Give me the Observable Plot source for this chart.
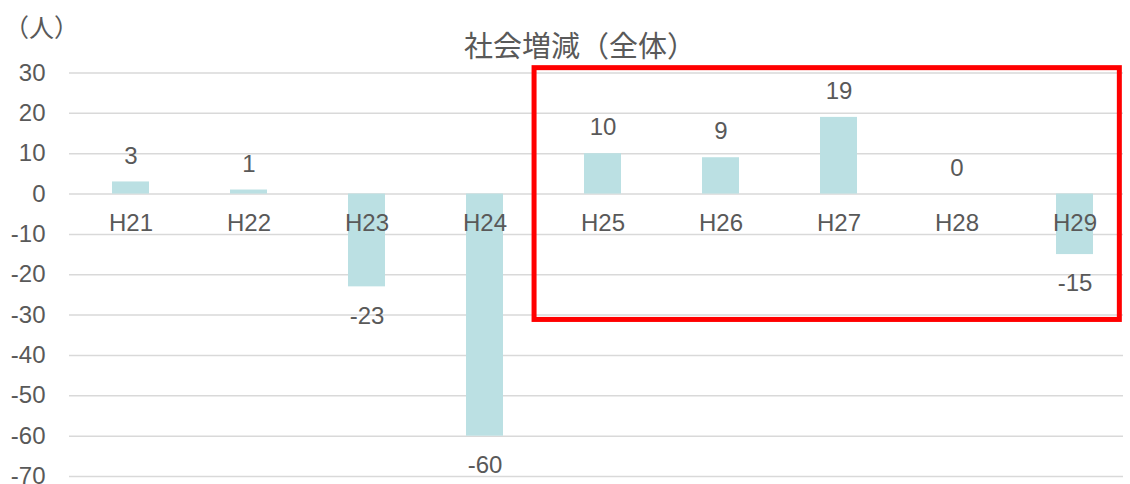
<!DOCTYPE html>
<html>
<head>
<meta charset="utf-8">
<script src="https://cdn.jsdelivr.net/npm/d3@7"></script>
<script src="https://cdn.jsdelivr.net/npm/@observablehq/plot@0.6"></script>
<style>
  body { margin: 0; background: #fff; }
  #chart { position: relative; width: 1130px; height: 484px; overflow: hidden; }
  #chart svg { position: absolute; left: 0; top: 0; }
  .unit, .title {
    position: absolute;
    color: #595959;
    font-family: "Noto Sans CJK JP", "Noto Sans", sans-serif;
    white-space: nowrap;
    line-height: 1;
  }
  .unit { left: 4px; top: 14px; font-size: 25px; }
  .title { left: 580px; top: 30px; font-size: 29px; transform: translateX(-50%); }
</style>
</head>
<body>
<div id="chart">
  <div class="unit">（人）</div>
  <div class="title">社会増減（全体）</div>
</div>
<script>
// Fiscal years (Heisei) and net social migration (persons)
const years = ["H21", "H22", "H23", "H24", "H25", "H26", "H27", "H28", "H29"];
const values = [3, 1, -23, -60, 10, 9, 19, 0, -15];
const yTicks = [30, 20, 10, 0, -10, -20, -30, -40, -50, -60, -70];
// Highlighted span of years (frame edges given as offsets, in steps, from the end bars' centres)
const highlightFrom = "H25";
const highlightTo = "H29";
const highlightLeftOffset = -0.58;
const highlightRightOffset = 0.38;
const highlightTop = 31.2;
const highlightBottom = -31.2;

const data = years.map((year, i) => ({year, value: values[i]}));
const textColor = "#595959";
const font = "'Liberation Sans', Arial, sans-serif";
const fontSize = 24;

const plot = Plot.plot({
  width: 1130,
  height: 484,
  marginLeft: 69,
  marginRight: 7,
  marginTop: 72.5,
  marginBottom: 8,
  style: {fontFamily: font, background: "transparent", overflow: "visible"},
  x: {domain: years, range: [68.7, 1136.8], paddingInner: 0.685, paddingOuter: 0.3425, axis: null},
  y: {domain: [-70, 30], axis: null},
  marks: [
    Plot.gridY(yTicks, {stroke: "#d9d9d9", strokeOpacity: 1, strokeWidth: 1.5}),
    Plot.axisY(yTicks, {
      tickSize: 0, tickPadding: 24, fontSize, fill: textColor,
      tickFormat: d => String(d), label: null
    }),
    Plot.barY(data, {x: "year", y: "value", fill: "#bbe0e3"}),
    Plot.text(data, {x: "year", y: 0, text: "year", dy: 29, fontSize, fill: textColor}),
    Plot.text(data.filter(d => d.value >= 0), {
      x: "year", y: "value", text: d => String(d.value), dy: -26, fontSize, fill: textColor
    }),
    Plot.text(data.filter(d => d.value < 0), {
      x: "year", y: "value", text: d => String(d.value), dy: 29, fontSize, fill: textColor
    })
  ]
});

// Red frame around the highlighted years, placed with the plot's own scales
const sx = plot.scale("x");
const sy = plot.scale("y");
const centre = d => sx.apply(d) + sx.bandwidth / 2;
const frameLeft = centre(highlightFrom) + highlightLeftOffset * sx.step;
const frameRight = centre(highlightTo) + highlightRightOffset * sx.step;
const frameTop = sy.apply(highlightTop);
const frameBottom = sy.apply(highlightBottom);
d3.select(plot).append("rect")
  .attr("x", frameLeft).attr("y", frameTop)
  .attr("width", frameRight - frameLeft).attr("height", frameBottom - frameTop)
  .attr("fill", "none").attr("stroke", "#ff0000").attr("stroke-width", 5);

document.getElementById("chart").prepend(plot);
</script>
</body>
</html>
